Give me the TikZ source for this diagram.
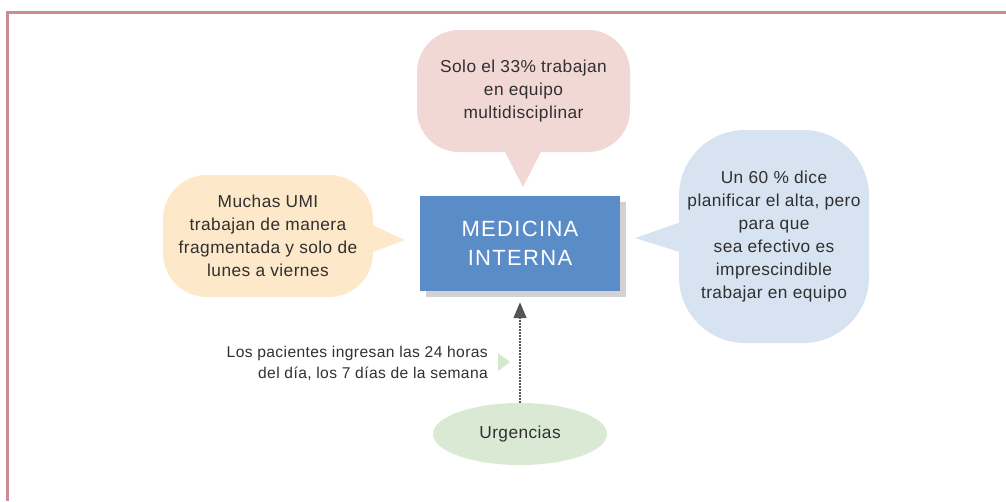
\documentclass[tikz,border=0pt]{standalone}
\usepackage{fontspec}
\setmainfont{Liberation Sans}[LetterSpace=2.5]
\newfontfamily\medfont{Liberation Sans}[LetterSpace=6]
\usetikzlibrary{arrows.meta,shapes.geometric,shadows}
\definecolor{framecol}{HTML}{C98C92}
\definecolor{pinkfill}{HTML}{F2D8D5}
\definecolor{bluebox}{HTML}{5A8DC7}
\definecolor{shadowgrey}{HTML}{D2D2D4}
\definecolor{orangefill}{HTML}{FDE8C9}
\definecolor{skyfill}{HTML}{D7E3F0}
\definecolor{greenfill}{HTML}{D9E9D3}
\definecolor{greentri}{HTML}{D3E8CD}
\definecolor{txt}{HTML}{303030}
\definecolor{arrowcol}{HTML}{555555}
\tikzset{
  bubble/.style={draw=none, align=center, inner sep=0pt, text=txt,
    font=\fontsize{17.3}{23}\selectfont},
  bodytext/.style={align=right, inner sep=0pt, text=txt,
    font=\fontsize{15.6}{21}\selectfont},
}
\begin{document}
\begin{tikzpicture}[x=1pt,y=-1pt]
\useasboundingbox (0,0) rectangle (1006,501);
% frame
\draw[framecol, line width=3pt] (7,501) -- (7,12) -- (1006,12);
% pink bubble
\fill[pinkfill] (503,148) -- (523,187) -- (543,148) -- cycle;
\node[bubble, fill=pinkfill, rounded corners=42pt, minimum width=213pt, minimum height=122pt] (pink) at (523.5,91)
  {Solo el 33\% trabajan\\en equipo\\multidisciplinar};
% orange bubble
\fill[orangefill] (366,222) -- (405,240) -- (362,256) -- cycle;
\node[bubble, fill=orangefill, rounded corners=44pt, minimum width=210pt, minimum height=122pt] (orange) at (268,236)
  {Muchas UMI\\trabajan de manera\\fragmentada y solo de\\lunes a viernes};
% right bubble
\fill[skyfill] (684,221) -- (635,238) -- (686,254) -- cycle;
\node[bubble, fill=skyfill, rounded corners=66pt, minimum width=190pt, minimum height=213pt] (sky) at (774,236.5)
  {Un 60 \% dice\\planificar el alta, pero\\para que\\sea efectivo es\\imprescindible\\trabajar en equipo};
% central box
\node[fill=bluebox, minimum width=200pt, minimum height=95pt, inner sep=0pt,
  drop shadow={shadow xshift=6pt, shadow yshift=-6pt, fill=shadowgrey, opacity=1},
  align=center, text=white, font=\medfont\fontsize{22}{29}\selectfont] (med) at (520,243.5)
  {MEDICINA\\INTERNA};
% urgencias
\node[ellipse, fill=greenfill, minimum width=174pt, minimum height=62pt, inner sep=0pt,
  text=txt, font=\fontsize{17.3}{23}\selectfont] (urg) at (520,434) {Urgencias};
% arrow
\draw[arrowcol, line width=1.4pt, dash pattern=on 1.4pt off 1.6pt,
  -{Triangle[length=16pt,width=13pt]}, shorten >=11pt] (urg.north) -- (med.south);
% label
\node[bodytext, anchor=east] (lbl) at (488,363)
  {Los pacientes ingresan las 24 horas\\del día, los 7 días de la semana};
\fill[greentri] (498,353) -- (510,362) -- (498,371) -- cycle;
\end{tikzpicture}
\end{document}
